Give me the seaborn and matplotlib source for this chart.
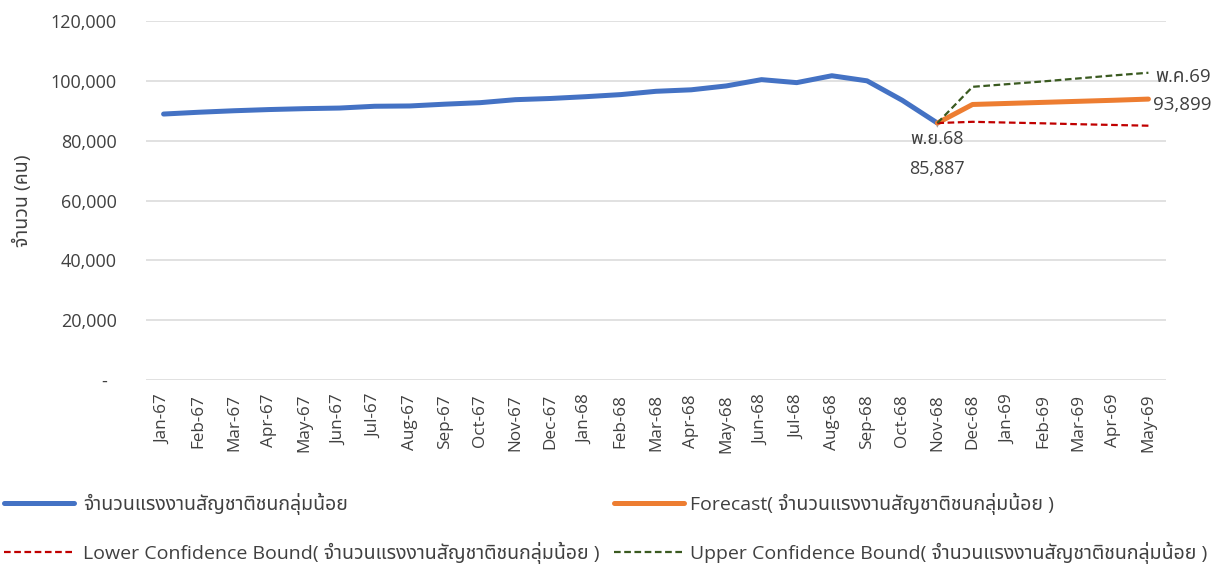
import matplotlib
matplotlib.use("Agg")
import matplotlib.pyplot as plt
import matplotlib.ticker as mticker
import numpy as np
import seaborn as sns

# ---------------- data ----------------
months = ["Jan-67", "Feb-67", "Mar-67", "Apr-67", "May-67", "Jun-67", "Jul-67",
          "Aug-67", "Sep-67", "Oct-67", "Nov-67", "Dec-67", "Jan-68", "Feb-68",
          "Mar-68", "Apr-68", "May-68", "Jun-68", "Jul-68", "Aug-68", "Sep-68",
          "Oct-68", "Nov-68", "Dec-68", "Jan-69", "Feb-69", "Mar-69", "Apr-69",
          "May-69"]
actual = [88900, 89500, 90000, 90400, 90700, 90900, 91500, 91600, 92200, 92700,
          93700, 94100, 94700, 95400, 96500, 97000, 98300, 100400, 99400, 101700,
          100000, 93500, 85887]
forecast_months = ["Nov-68", "Dec-68", "Jan-69", "Feb-69", "Mar-69", "Apr-69", "May-69"]
forecast = [85887, 92100, 92450, 92800, 93150, 93500, 93899]
lower = [85887, 86300, 86050, 85800, 85500, 85250, 85000]
upper = [85887, 98000, 98900, 99800, 100800, 101800, 102700]

series_names = ["จำนวนแรงงานสัญชาติชนกลุ่มน้อย",
                "Forecast( จำนวนแรงงานสัญชาติชนกลุ่มน้อย )",
                "Lower Confidence Bound( จำนวนแรงงานสัญชาติชนกลุ่มน้อย )",
                "Upper Confidence Bound( จำนวนแรงงานสัญชาติชนกลุ่มน้อย )"]
y_label = "จำนวน (คน)"
ann_start = ["พ.ย.68", "85,887"]
ann_end = ["พ.ค.69", "93,899"]
y_ticks = [0, 20000, 40000, 60000, 80000, 100000, 120000]

# ---------------- style ----------------
sns.set_theme(style="white")
plt.rcParams["font.family"] = ["Open Sans", "Noto Sans Thai", "DejaVu Sans"]
TXT = "#404040"

fig = plt.figure(figsize=(12.22, 5.65), dpi=100)
ax = fig.add_axes([146 / 1222, 1 - 380 / 565, 1020 / 1222, 359 / 565])

x_all = np.arange(len(months))
idx = {m: i for i, m in enumerate(months)}
x_act = x_all[:len(actual)]
x_fc = np.array([idx[m] for m in forecast_months])

BLUE, ORANGE, RED, GREEN = "#4472C4", "#ED7D31", "#C00000", "#3A5A20"

sns.lineplot(x=x_act, y=actual, ax=ax, color=BLUE, lw=3.6, label=series_names[0],
             solid_capstyle="round", zorder=3)
sns.lineplot(x=x_fc, y=forecast, ax=ax, color=ORANGE, lw=3.6, label=series_names[1],
             solid_capstyle="round", zorder=4)
sns.lineplot(x=x_fc, y=lower, ax=ax, color=RED, lw=1.6, label=series_names[2],
             dashes=False, zorder=5)
sns.lineplot(x=x_fc, y=upper, ax=ax, color=GREEN, lw=1.6, label=series_names[3],
             dashes=False, zorder=5)
for ln in ax.lines[2:4]:
    ln.set_dashes((3, 1.6))

ax.set_xlim(-0.5, len(months) - 0.5)
ax.set_ylim(0, 120000)
ax.set_yticks(y_ticks)
ax.yaxis.set_major_formatter(mticker.FuncFormatter(
    lambda v, p: "-  " if v == 0 else f"{int(v):,}"))
ax.set_xticks(x_all)
ax.set_xticklabels(months, rotation=90, fontsize=12.3, color=TXT)
ax.tick_params(axis="x", length=0, pad=10)
ax.tick_params(axis="y", length=0, pad=21, labelsize=13, labelcolor=TXT)
ax.grid(axis="y", color="#D9D9D9", lw=1.1)
ax.grid(axis="x", visible=False)
for s in ax.spines.values():
    s.set_visible(False)
ax.set_xlabel("")
ax.set_ylabel("")
fig.text(22 / 1222, 1 - 201 / 565, y_label, rotation=90, ha="center", va="center",
         fontsize=14, color=TXT)

# annotations
xs, ys = idx["Nov-68"], actual[-1]
ax.annotate(ann_start[0], xy=(xs, ys), xytext=(0, -11.5), textcoords="offset points",
            ha="center", va="center", fontsize=13, color=TXT,
            arrowprops=dict(arrowstyle="-", color="#A6A6A6", lw=1, shrinkA=0, shrinkB=0))
ax.annotate(ann_start[1], xy=(xs, ys), xytext=(0, -33), textcoords="offset points",
            ha="center", va="center", fontsize=13, color=TXT)
xe, ye = idx["May-69"], forecast[-1]
ax.annotate(ann_end[0], xy=(xe, ye), xytext=(5, 16), textcoords="offset points",
            ha="left", va="center", fontsize=13.5, color=TXT, annotation_clip=False)
ax.annotate(ann_end[1], xy=(xe, ye), xytext=(3.5, -4.3), textcoords="offset points",
            ha="left", va="center", fontsize=13.5, color=TXT, annotation_clip=False)

# legend: two columns placed separately
handles, labels = ax.get_legend_handles_labels()
ax.legend_.remove()
common = dict(frameon=False, fontsize=14, handlelength=3.6, labelspacing=1.35,
              borderpad=0, borderaxespad=0, loc="upper left", labelcolor=TXT)
leg1 = fig.legend([handles[0], handles[2]], [labels[0], labels[2]],
                  bbox_to_anchor=(4 / 1222, 1 - 493 / 565), handletextpad=0.45, **common)
leg2 = fig.legend([handles[1], handles[3]], [labels[1], labels[3]],
                  bbox_to_anchor=(614 / 1222, 1 - 493 / 565), handletextpad=0.3, **common)

fig.savefig("out.png", dpi=100)
